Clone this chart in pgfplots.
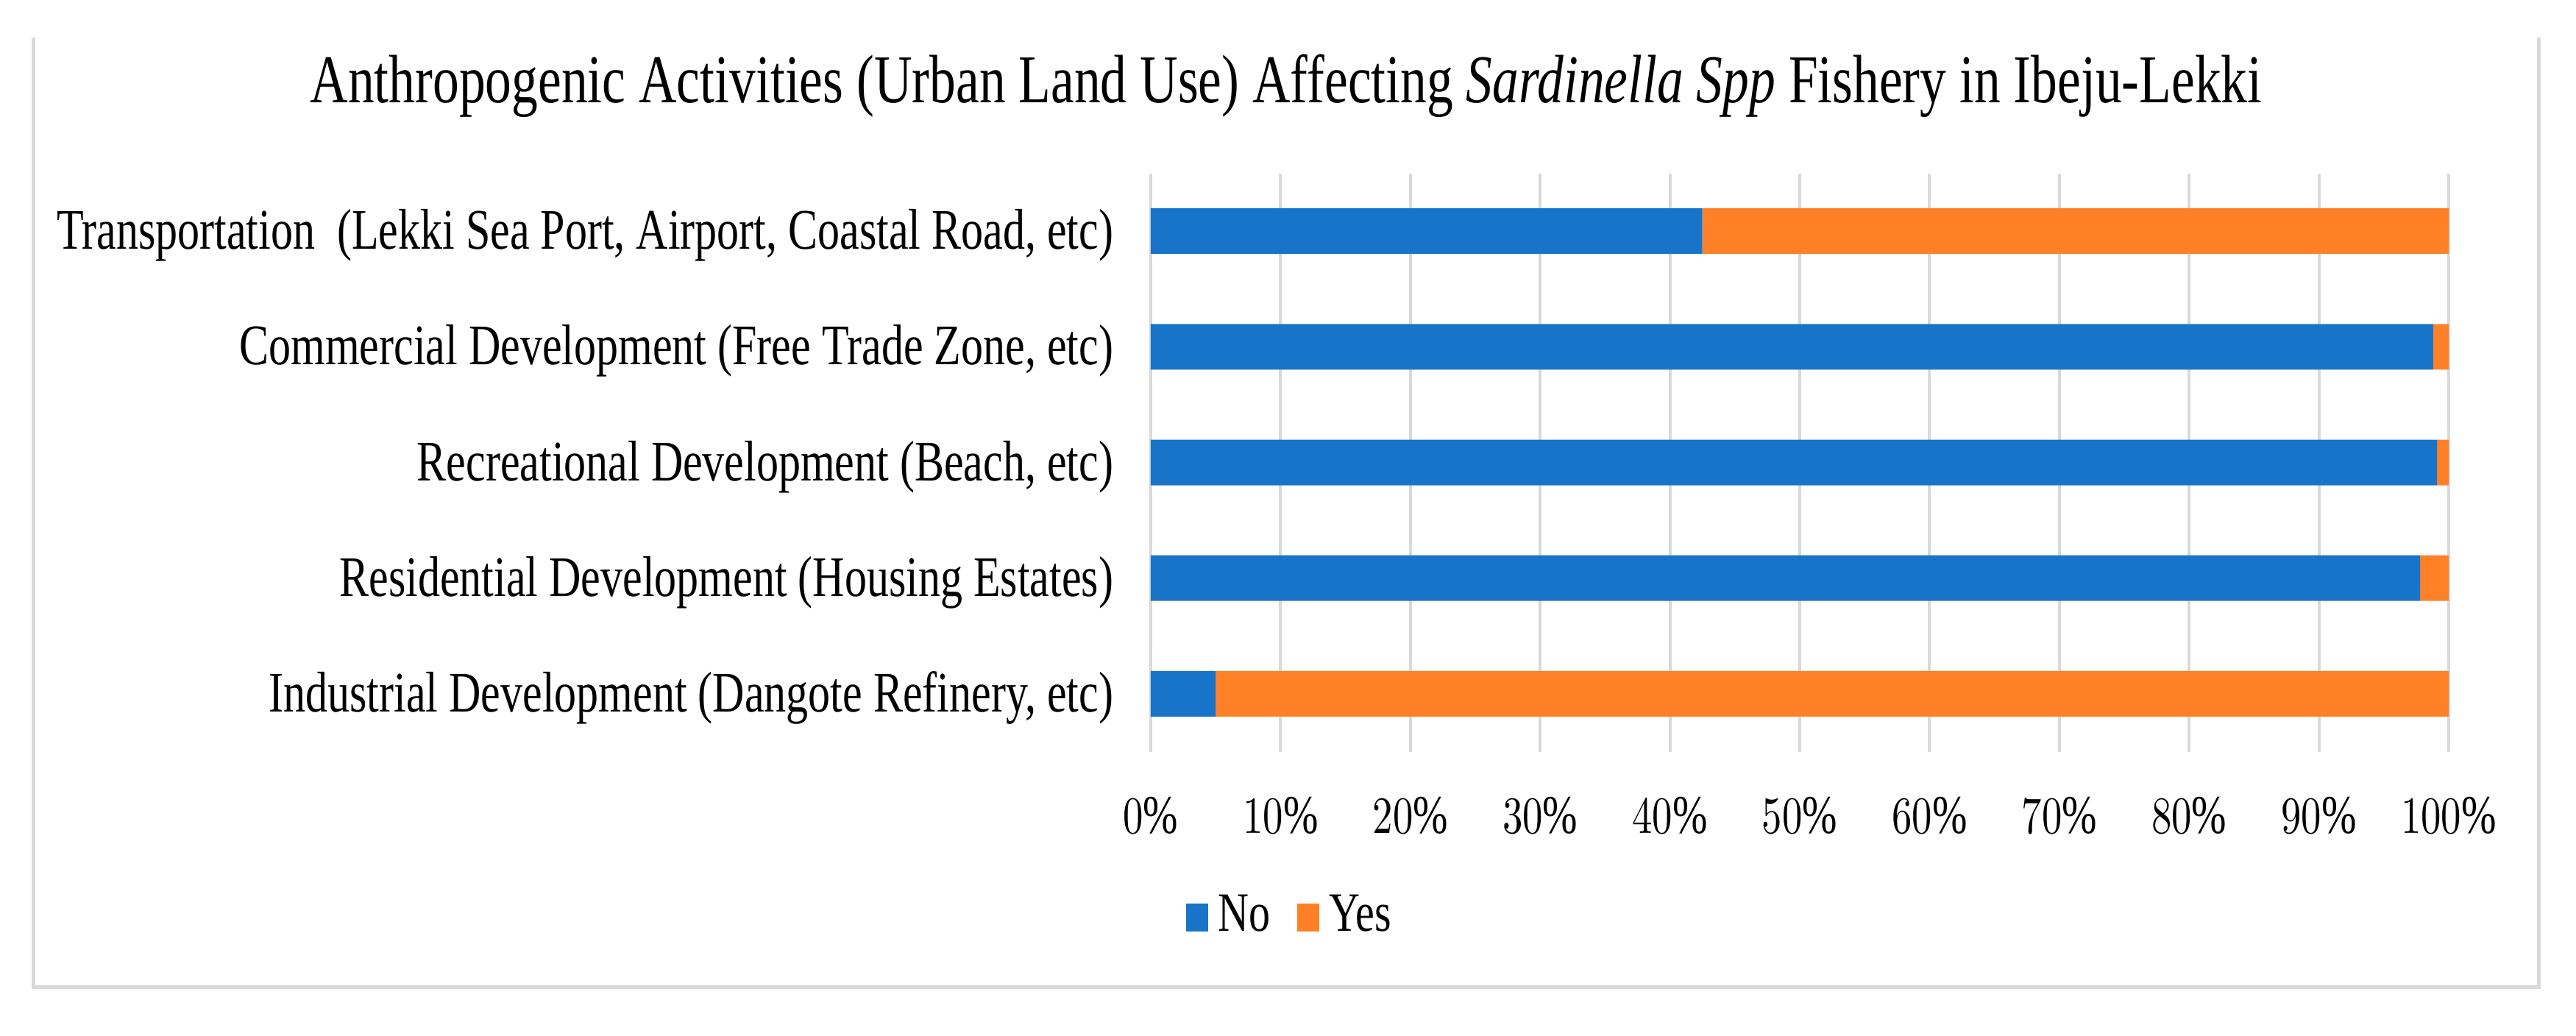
\documentclass[border=0pt]{standalone}
\usepackage{pgfplots}
\pgfplotsset{compat=1.18}
\usepackage{fontspec}
\setmainfont{Liberation Serif}
\usepackage{graphicx}
\definecolor{cno}{RGB}{24,116,201}
\definecolor{cyes}{RGB}{255,128,39}
\definecolor{gridc}{RGB}{217,217,217}
\newcommand\vs[1]{\scalebox{1}[1.3]{#1}}
\begin{document}
\begin{tikzpicture}
\useasboundingbox (-312.8pt,-77.1pt) rectangle (387.4pt,204.3pt);
\draw[gridc, line width=1pt] (-303.6pt,194.1pt) -- (-303.6pt,-63.9pt) -- (377.2pt,-63.9pt) -- (377.2pt,194.1pt);
\begin{axis}[
  at={(0pt,0pt)}, anchor=south west,
  scale only axis, width=352.8pt, height=157.2pt,
  xbar stacked, bar width=12.4pt,
  xmin=0, xmax=100, ymin=-0.5, ymax=4.5,
  xtick={0,10,...,100},
  xticklabel={\vs{\pgfmathprintnumber{\tick}\%}},
  ytick={0,1,2,3,4},
  yticklabels={{\vs{Industrial Development (Dangote Refinery, etc)}},
               {\vs{Residential Development (Housing Estates)}},
               {\vs{Recreational Development (Beach, etc)}},
               {\vs{Commercial Development (Free Trade Zone, etc)}},
               {\vs{Transportation\ \ (Lekki Sea Port, Airport, Coastal Road, etc)}}},
  axis line style={draw=none}, major tick length=0pt,
  xmajorgrids, grid style={gridc, line width=0.8pt},
  xticklabel style={anchor=base, yshift=-22.2pt, inner sep=0pt, font=\fontsize{11.4}{13}\selectfont},
  yticklabel style={anchor=base east, xshift=-10pt, yshift=-4.9pt, inner sep=0pt, font=\fontsize{12.0}{14}\selectfont},
  legend style={at={(0.110,-0.2844)}, anchor=center, draw=none, legend columns=-1,
    inner sep=0pt, nodes={inner sep=2.7pt}, font=\fontsize{11.6}{13}\selectfont,
    /tikz/every even column/.append style={column sep=4.7pt}},
  legend image code/.code={\fill[#1] (0pt,-4.2pt) rectangle (6pt,3.4pt);},
]
\addplot[fill=cno, draw=none] coordinates {(5.0,0) (97.8,1) (99.1,2) (98.8,3) (42.5,4)};
\addplot[fill=cyes, draw=none] coordinates {(95.0,0) (2.2,1) (0.9,2) (1.2,3) (57.5,4)};
\legend{\vs{No},\vs{Yes}}
\end{axis}
\node[anchor=base, font=\fontsize{14.3}{17}\selectfont] at (36.8pt,176.3pt) {\vs{Anthropogenic Activities (Urban Land Use) Affecting \textit{Sardinella Spp} Fishery in Ibeju-Lekki}};
\end{tikzpicture}
\end{document}
